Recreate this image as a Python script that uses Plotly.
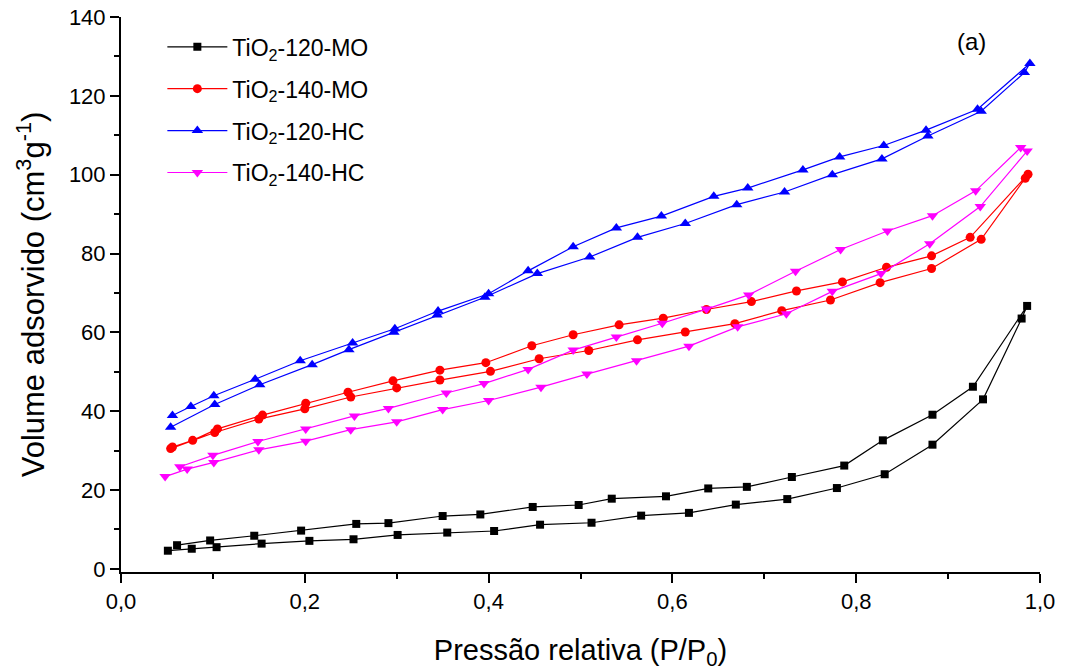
import plotly.graph_objects as go

# TiO2-120-MO (adsorption then desorption)
x_120_mo = [0.051, 0.077, 0.104, 0.153, 0.205, 0.253, 0.301, 0.355, 0.406, 0.456, 0.512, 0.566,
            0.618, 0.669, 0.725, 0.779, 0.831, 0.883, 0.938, 0.980, 0.986,
            0.927, 0.883, 0.829, 0.787, 0.730, 0.681, 0.639, 0.593, 0.534, 0.498, 0.448, 0.391,
            0.350, 0.291, 0.256, 0.196, 0.145, 0.097, 0.061]
y_120_mo = [4.6, 5.1, 5.5, 6.4, 7.1, 7.5, 8.6, 9.2, 9.6, 11.2, 11.7, 13.5,
            14.2, 16.3, 17.7, 20.5, 24.0, 31.5, 43.0, 63.5, 66.7,
            46.2, 39.1, 32.6, 26.2, 23.3, 20.8, 20.4, 18.4, 17.8, 16.2, 15.7, 13.8,
            13.4, 11.6, 11.4, 9.7, 8.4, 7.2, 6.0]

# TiO2-140-MO
x_140_mo = [0.054, 0.102, 0.150, 0.200, 0.250, 0.300, 0.347, 0.402, 0.455, 0.509, 0.562, 0.614,
            0.668, 0.719, 0.772, 0.826, 0.882, 0.936, 0.984, 0.987,
            0.924, 0.882, 0.833, 0.785, 0.735, 0.686, 0.637, 0.590, 0.542, 0.492, 0.447, 0.397,
            0.347, 0.296, 0.247, 0.201, 0.154, 0.105, 0.078, 0.056]
y_140_mo = [30.5, 34.6, 38.0, 40.6, 43.6, 45.9, 47.9, 50.1, 53.3, 55.4, 58.1, 60.1,
            62.2, 65.5, 68.2, 72.6, 76.2, 83.6, 99.1, 100.1,
            84.1, 79.4, 76.5, 72.8, 70.5, 67.8, 65.8, 63.6, 61.9, 59.4, 56.6, 52.3,
            50.4, 47.7, 44.8, 42.0, 39.0, 35.5, 32.6, 30.9]

# TiO2-120-HC
x_120_hc = [0.054, 0.102, 0.151, 0.208, 0.248, 0.297, 0.344, 0.396, 0.453, 0.510, 0.562, 0.614,
            0.670, 0.722, 0.774, 0.828, 0.878, 0.936, 0.983, 0.989,
            0.932, 0.876, 0.830, 0.782, 0.742, 0.682, 0.645, 0.588, 0.539, 0.492, 0.443, 0.400,
            0.345, 0.298, 0.252, 0.195, 0.146, 0.101, 0.076, 0.056]
y_120_hc = [35.9, 41.7, 46.7, 51.8, 55.6, 60.0, 64.4, 68.9, 74.9, 79.1, 84.1, 87.6,
            92.4, 95.6, 100.0, 104.0, 109.8, 116.1, 125.9, 128.2,
            116.6, 111.3, 107.4, 104.5, 101.2, 96.6, 94.5, 89.5, 86.5, 81.7, 75.6, 69.8,
            65.4, 60.9, 57.3, 52.8, 48.1, 43.9, 41.2, 38.9]

# TiO2-140-HC
x_140_hc = [0.048, 0.072, 0.101, 0.150, 0.201, 0.250, 0.300, 0.350, 0.400, 0.457, 0.507, 0.561,
            0.618, 0.671, 0.724, 0.774, 0.827, 0.880, 0.935, 0.986,
            0.979, 0.930, 0.883, 0.834, 0.783, 0.734, 0.683, 0.637, 0.589, 0.539, 0.492, 0.443,
            0.395, 0.354, 0.291, 0.254, 0.201, 0.149, 0.100, 0.064]
y_140_hc = [23.4, 25.3, 27.0, 30.2, 32.4, 35.3, 37.3, 40.4, 42.7, 46.1, 49.4, 52.8,
            56.5, 61.4, 64.7, 70.4, 74.9, 82.5, 91.9, 106.0,
            106.9, 95.9, 89.6, 85.7, 81.0, 75.5, 69.5, 65.9, 62.3, 58.8, 55.5, 50.6,
            47.0, 44.6, 40.7, 38.8, 35.5, 32.3, 28.8, 25.9]

names = ["TiO<sub>2</sub>-120-MO", "TiO<sub>2</sub>-140-MO",
         "TiO<sub>2</sub>-120-HC", "TiO<sub>2</sub>-140-HC"]
xs = [x_120_mo, x_140_mo, x_120_hc, x_140_hc]
ys = [y_120_mo, y_140_mo, y_120_hc, y_140_hc]
colors = ["#000000", "#FF0000", "#0000FF", "#FF00FF"]
symbols = ["square", "circle", "triangle-up", "triangle-down"]
msizes = [8, 9, 10, 10]

fig = go.Figure()
for i in range(4):
    fig.add_trace(go.Scatter(
        x=xs[i], y=ys[i], mode="lines+markers", name=names[i],
        legendgroup=f"g{i}",
        line=dict(color=colors[i], width=1.2),
        marker=dict(symbol=symbols[i], size=msizes[i], color=colors[i]),
    ))

font_family = "Liberation Sans, Arial, sans-serif"
fig.update_layout(
    template="none",
    width=1065, height=671,
    margin=dict(l=121, r=25, t=17, b=99, pad=0),
    paper_bgcolor="white", plot_bgcolor="white",
    separators=",.",
    font=dict(family=font_family, size=22, color="black"),
    showlegend=True,
    legend=dict(x=0.045, y=0.985, xanchor="left", yanchor="top",
                font=dict(size=23), itemwidth=60, tracegroupgap=9,
                bgcolor="rgba(0,0,0,0)"),
    xaxis=dict(range=[0, 1], tickvals=[0, 0.2, 0.4, 0.6, 0.8, 1.0], tickformat=".1f",
               automargin=False,
               showline=True, linecolor="black", linewidth=2, mirror=False,
               ticks="outside", ticklen=9, tickwidth=2, tickcolor="black",
               tickfont=dict(family=font_family, size=22, color="black"),
               minor=dict(dtick=0.1, ticks="outside", ticklen=5, tickwidth=2, tickcolor="black"),
               showgrid=False, zeroline=False,
               title=dict(text="Pressão relativa (P/P<sub>0</sub>)", font=dict(size=29), standoff=26)),
    yaxis=dict(range=[-0.8, 140], tickvals=[0, 20, 40, 60, 80, 100, 120, 140],
               automargin=False,
               showline=True, linecolor="black", linewidth=2, mirror=False,
               ticks="outside", ticklen=9, tickwidth=2, tickcolor="black",
               tickfont=dict(family=font_family, size=22, color="black"),
               minor=dict(dtick=10, ticks="outside", ticklen=5, tickwidth=2, tickcolor="black"),
               showgrid=False, zeroline=False,
               title=dict(text="Volume adsorvido (cm<sup>3</sup>g<sup>-1</sup>)", font=dict(size=31), standoff=15)),
)
fig.add_annotation(x=0.925, y=0.955, xref="paper", yref="paper", text="(a)",
                   showarrow=False, font=dict(size=24), xanchor="center", yanchor="middle")

fig.write_html("out.html", config={"displayModeBar": False},
               post_script="document.body.style.margin='0';document.body.style.overflow='hidden';")
